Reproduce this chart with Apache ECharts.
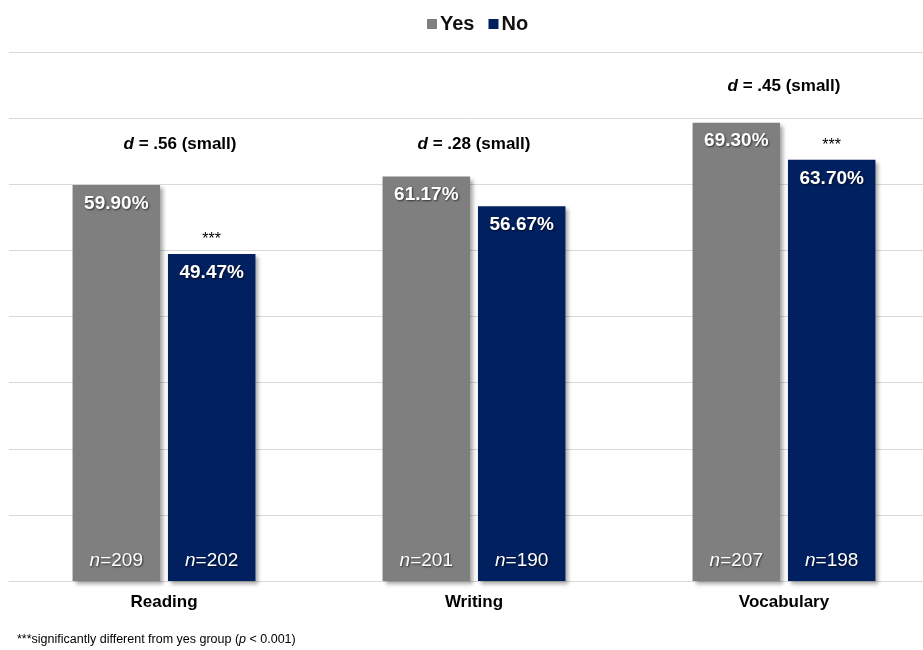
<!DOCTYPE html>
<html><head><meta charset="utf-8">
<script src="https://cdn.jsdelivr.net/npm/echarts@6/dist/echarts.min.js"></script>
<style>html,body{margin:0;padding:0;background:#fff}#c{width:923px;height:650px}</style>
</head><body><div id="c"></div>
<script>
const categories = ['Reading', 'Writing', 'Vocabulary'];
const yesValues = [59.90, 61.17, 69.30];
const noValues = [49.47, 56.67, 63.70];
const yesN = [209, 201, 207];
const noN = [202, 190, 198];
const sigMarks = ['***', '', '***'];
const effectSizes = ['.56', '.28', '.45'];
const effectLabels = ['small', 'small', 'small'];
const effectLevels = [66.0, 66.0, 74.8];
const yTicks = [0, 10, 20, 30, 40, 50, 60, 70, 80];

const FONT = '"Liberation Sans", Arial, sans-serif';
const shadow = {shadowBlur: 4, shadowOffsetX: 3, shadowOffsetY: 3, shadowColor: 'rgba(0,0,0,0.35)'};
const tShadow = {textShadowColor: 'rgba(0,0,0,0.6)', textShadowBlur: 2, textShadowOffsetX: 1, textShadowOffsetY: 1};
const valLabel = Object.assign({
  show: true, position: 'insideTop', distance: 9, color: '#fff', fontFamily: FONT,
  fontWeight: 'bold', fontSize: 19,
  formatter: p => p.value.toFixed(2) + '%'
}, tShadow);
function nMarks(ns) {
  return {
    symbol: 'rect', symbolSize: 0, silent: true,
    label: Object.assign({
      show: true, position: 'top', distance: 11, color: '#fff', fontFamily: FONT, fontSize: 19,
      formatter: p => '{i|n}=' + p.data.nv,
      rich: {i: Object.assign({fontStyle: 'italic', fontSize: 19, fontFamily: FONT, color: '#fff'}, tShadow)}
    }, tShadow),
    data: categories.map((c, i) => ({coord: [c, 0], nv: ns[i]}))
  };
}

const chart = echarts.init(document.getElementById('c'));
chart.setOption({
  animation: false,
  textStyle: {fontFamily: FONT},
  legend: {
    top: 9, left: 422, itemWidth: 10, itemHeight: 10, itemGap: 14,
    icon: 'rect',
    textStyle: {fontSize: 20, fontWeight: 'bold', color: '#111', fontFamily: FONT, padding: [0, 0, 0, -2]},
    data: ['Yes', 'No']
  },
  grid: {left: 9, width: 930, top: 52, bottom: 69, containLabel: false, outerBoundsMode: 'none'},
  xAxis: {
    type: 'category', data: categories,
    axisLine: {lineStyle: {color: '#d9d9d9', width: 1}},
    axisTick: {show: false},
    axisLabel: {fontSize: 17, fontWeight: 'bold', color: '#000', margin: 13, fontFamily: FONT}
  },
  yAxis: {
    type: 'value', min: yTicks[0], max: yTicks[yTicks.length - 1], interval: 10,
    axisLabel: {show: false}, axisLine: {show: false}, axisTick: {show: false},
    splitLine: {lineStyle: {color: '#d9d9d9', width: 1}}
  },
  series: [
    {
      name: 'Yes', type: 'bar', data: yesValues, stack: 'yes',
      barGap: '9%', barCategoryGap: '41%',
      itemStyle: Object.assign({color: '#7f7f7f'}, shadow),
      label: valLabel,
      markPoint: nMarks(yesN)
    },
    {
      name: 'No', type: 'bar', data: noValues, stack: 'no',
      itemStyle: Object.assign({color: '#002060'}, shadow),
      label: valLabel,
      markPoint: nMarks(noN)
    },
    {
      name: 'sig', type: 'bar', stack: 'no', data: noValues.map(() => 0),
      itemStyle: {color: 'transparent'}, silent: true,
      label: {
        show: true, position: 'top', distance: 6, color: '#000', fontSize: 16, fontFamily: FONT,
        formatter: p => sigMarks[p.dataIndex]
      }
    },
    {
      name: 'd', type: 'scatter', symbolSize: 0, silent: true,
      itemStyle: {opacity: 1, color: '#000'},
      data: effectLevels.map((v, i) => i === 0 ? {value: v, label: {offset: [16, 0]}} : v),
      label: {
        show: true, position: 'inside', color: '#000', fontFamily: FONT,
        textBorderWidth: 0, textShadowBlur: 0,
        formatter: p => '{i|d}{b| = ' + effectSizes[p.dataIndex] + ' (' + effectLabels[p.dataIndex] + ')}',
        rich: {
          i: {fontStyle: 'italic', fontWeight: 'bold', fontSize: 17, fontFamily: FONT, color: '#000', textBorderWidth: 0},
          b: {fontWeight: 'bold', fontSize: 17, fontFamily: FONT, color: '#000', textBorderWidth: 0}
        }
      }
    }
  ],
  graphic: [{
    type: 'text', left: 17, top: 633,
    style: {
      text: '***significantly different from yes group ({i|p} < 0.001)',
      fontSize: 12.5, fontFamily: FONT, fill: '#000',
      rich: {i: {fontStyle: 'italic', fontSize: 12.5, fontFamily: FONT, fill: '#000'}}
    }
  }]
});
</script></body></html>
